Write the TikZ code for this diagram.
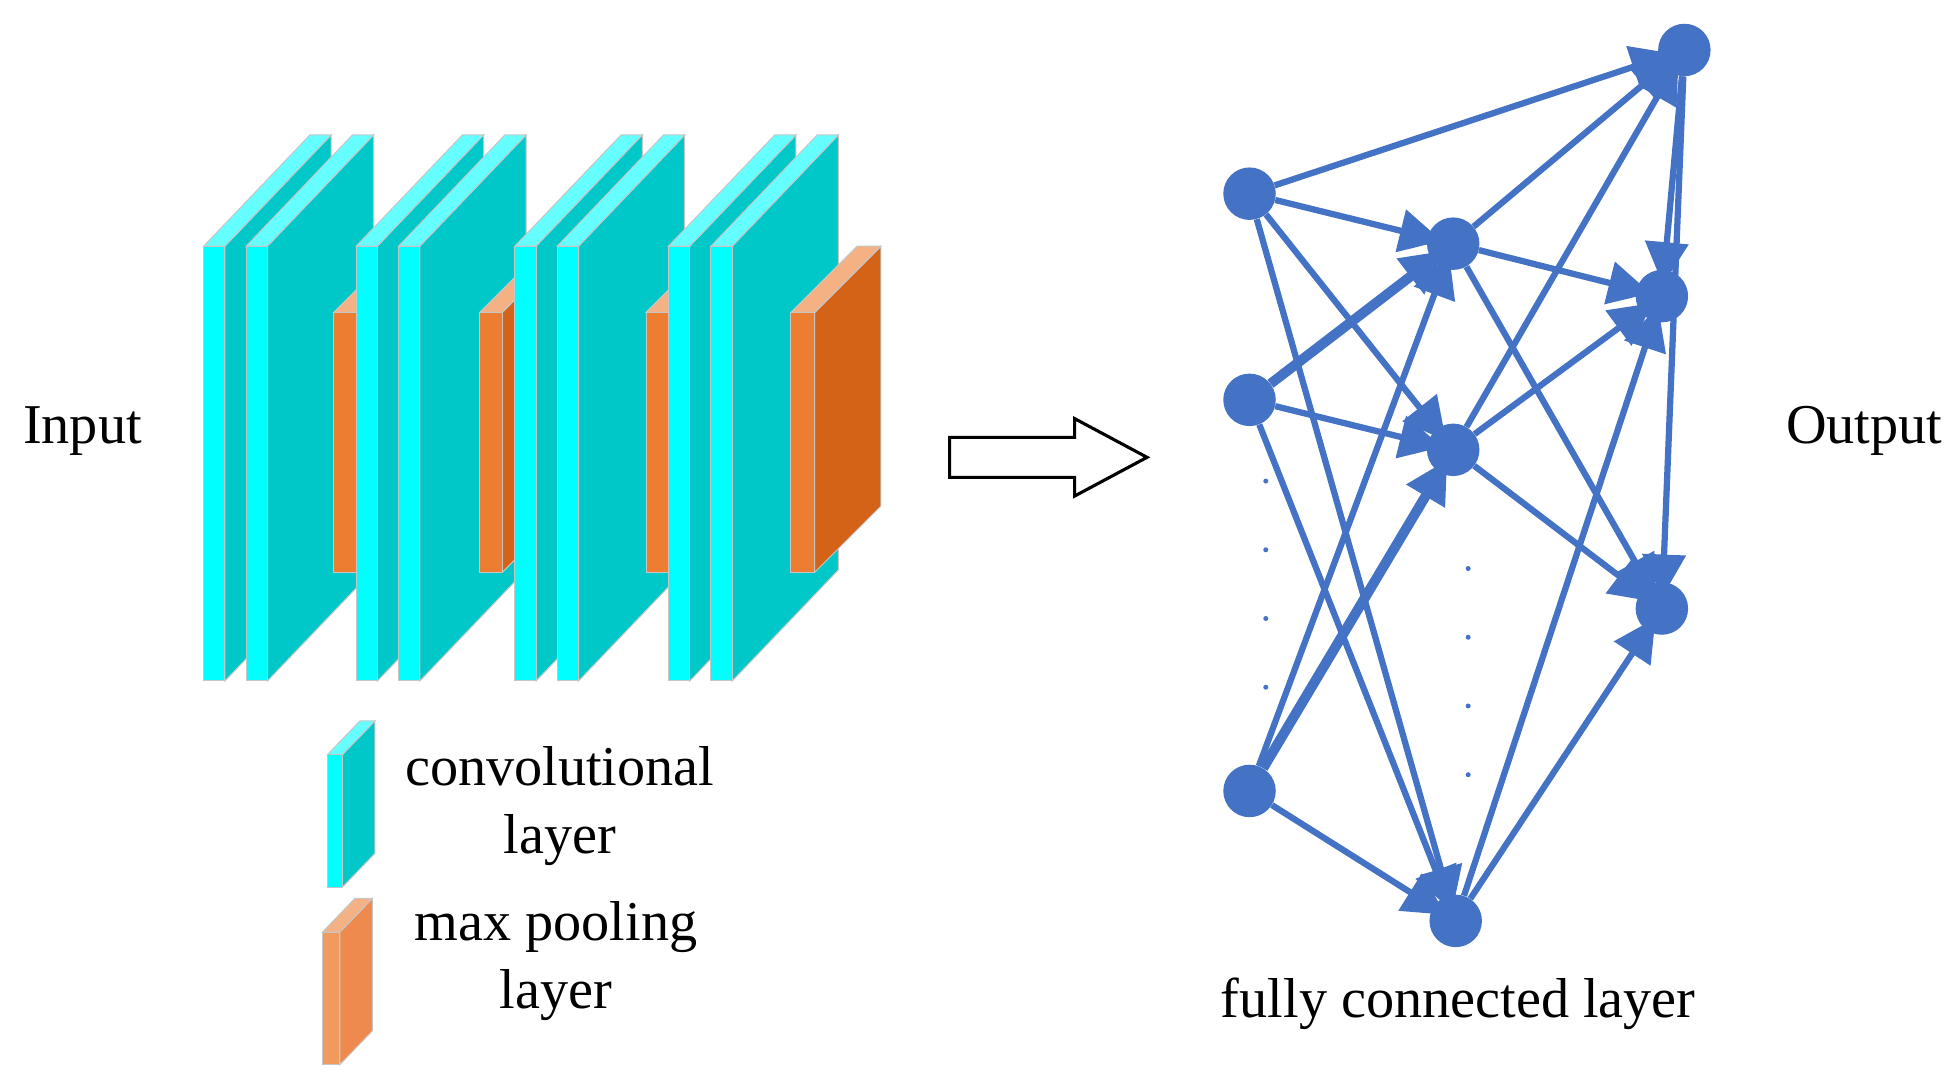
\documentclass[tikz,border=0pt]{standalone}
\usepackage{fontspec}
\setmainfont{Liberation Serif}
\usetikzlibrary{arrows.meta}
\definecolor{cf}{HTML}{00FFFF}\definecolor{ct}{HTML}{66FFFF}\definecolor{cs}{HTML}{00C8C8}
\definecolor{of}{HTML}{ED7D31}\definecolor{ot}{HTML}{F4B183}\definecolor{os}{HTML}{D56317}
\definecolor{lf}{HTML}{F09A5E}\definecolor{ls}{HTML}{EE8A4E}
\definecolor{nb}{HTML}{4472C4}
\newcommand{\slab}[9]{% x y1 y2 w dx dy front top side
  \fill[#9,draw=gray!45,line width=0.8pt] (#1+#4,#2)--(#1+#4+#5,#2-#6)--(#1+#4+#5,#3-#6)--(#1+#4,#3)--cycle;
  \fill[#8,draw=gray!45,line width=0.8pt] (#1,#2)--(#1+#5,#2-#6)--(#1+#4+#5,#2-#6)--(#1+#4,#2)--cycle;
  \fill[#7,draw=gray!45,line width=0.8pt] (#1,#2) rectangle (#1+#4,#3);}
\tikzset{nd/.style={circle,fill=nb,inner sep=0pt,minimum size=42pt},
  ed/.style={nb,line width=5pt,-{Triangle[length=34pt,width=34pt]},shorten >=-12pt},
  th/.style={line width=8pt},
  dt/.style={circle,fill=nb,inner sep=0pt,minimum size=4pt},
  lb/.style={font=\fontsize{45}{54}\selectfont,align=center}}
\begin{document}
\begin{tikzpicture}[x=1pt,y=-1pt]
\useasboundingbox (0,0) rectangle (1563,867);
% layers
\slab{163}{197}{545}{17}{85}{89}{cf}{ct}{cs}
\slab{197}{197}{545}{17}{85}{89}{cf}{ct}{cs}
\slab{267}{250}{458}{18}{53}{53}{of}{ot}{os}
\slab{285}{197}{545}{17}{85}{89}{cf}{ct}{cs}
\slab{319}{197}{545}{17}{85}{89}{cf}{ct}{cs}
\slab{384}{250}{458}{18}{53}{53}{of}{ot}{os}
\slab{412}{197}{545}{17}{85}{89}{cf}{ct}{cs}
\slab{446}{197}{545}{17}{85}{89}{cf}{ct}{cs}
\slab{517}{250}{458}{18}{53}{53}{of}{ot}{os}
\slab{535}{197}{545}{17}{85}{89}{cf}{ct}{cs}
\slab{569}{197}{545}{17}{85}{89}{cf}{ct}{cs}
\slab{633}{250}{458}{19}{53}{53}{of}{ot}{os}
% legend
\slab{262}{604}{710}{12}{26}{27}{cf}{ct}{cs}
\slab{258}{746}{852}{14}{26}{27}{lf}{ot}{ls}
\node[lb] (t1) at (448,645) {convolutional\\layer};
\node[lb] (t2) at (445,769) {max pooling\\layer};
\node[lb] (in) at (66,345) {Input};
\node[lb] (out) at (1492,345) {Output};
\node[lb] (fc) at (1167,803) {fully connected layer};
% big arrow
\draw[line width=2.5pt,line join=miter] (760,350)--(860,350)--(860,335)--(918,366)--(860,397)--(860,382)--(760,382)--cycle;
% nodes
\node[nd] (a1) at (1000,155) {};
\node[nd] (a2) at (1000,320) {};
\node[nd] (a3) at (1000,633) {};
\node[nd] (b1) at (1163,195) {};
\node[nd] (b2) at (1163,360) {};
\node[nd] (b3) at (1165,737) {};
\node[nd] (c0) at (1348,40) {};
\node[nd] (c1) at (1330,237) {};
\node[nd] (c2) at (1330,487) {};
% edges
\foreach \s/\t in {a1/c0,a1/b1,a1/b2,a1/b3,a2/b2,a2/b3,a3/b1,a3/b3,b1/c0,b1/c1,b1/c2,b2/c0,b2/c1,b2/c2,b3/c1,b3/c2,c0/c1,c0/c2}
  \draw[ed] (\s) -- (\t);
\draw[ed,th] (a2) -- (b1);
\draw[ed,th] (a3) -- (b2);
% dots
\foreach \y [count=\i] in {385,440,495,550} \node[dt] (d\i) at (1013,\y) {};
\foreach \y [count=\i] in {455,510,565,620} \node[dt] (e\i) at (1175,\y) {};
\end{tikzpicture}
\end{document}
